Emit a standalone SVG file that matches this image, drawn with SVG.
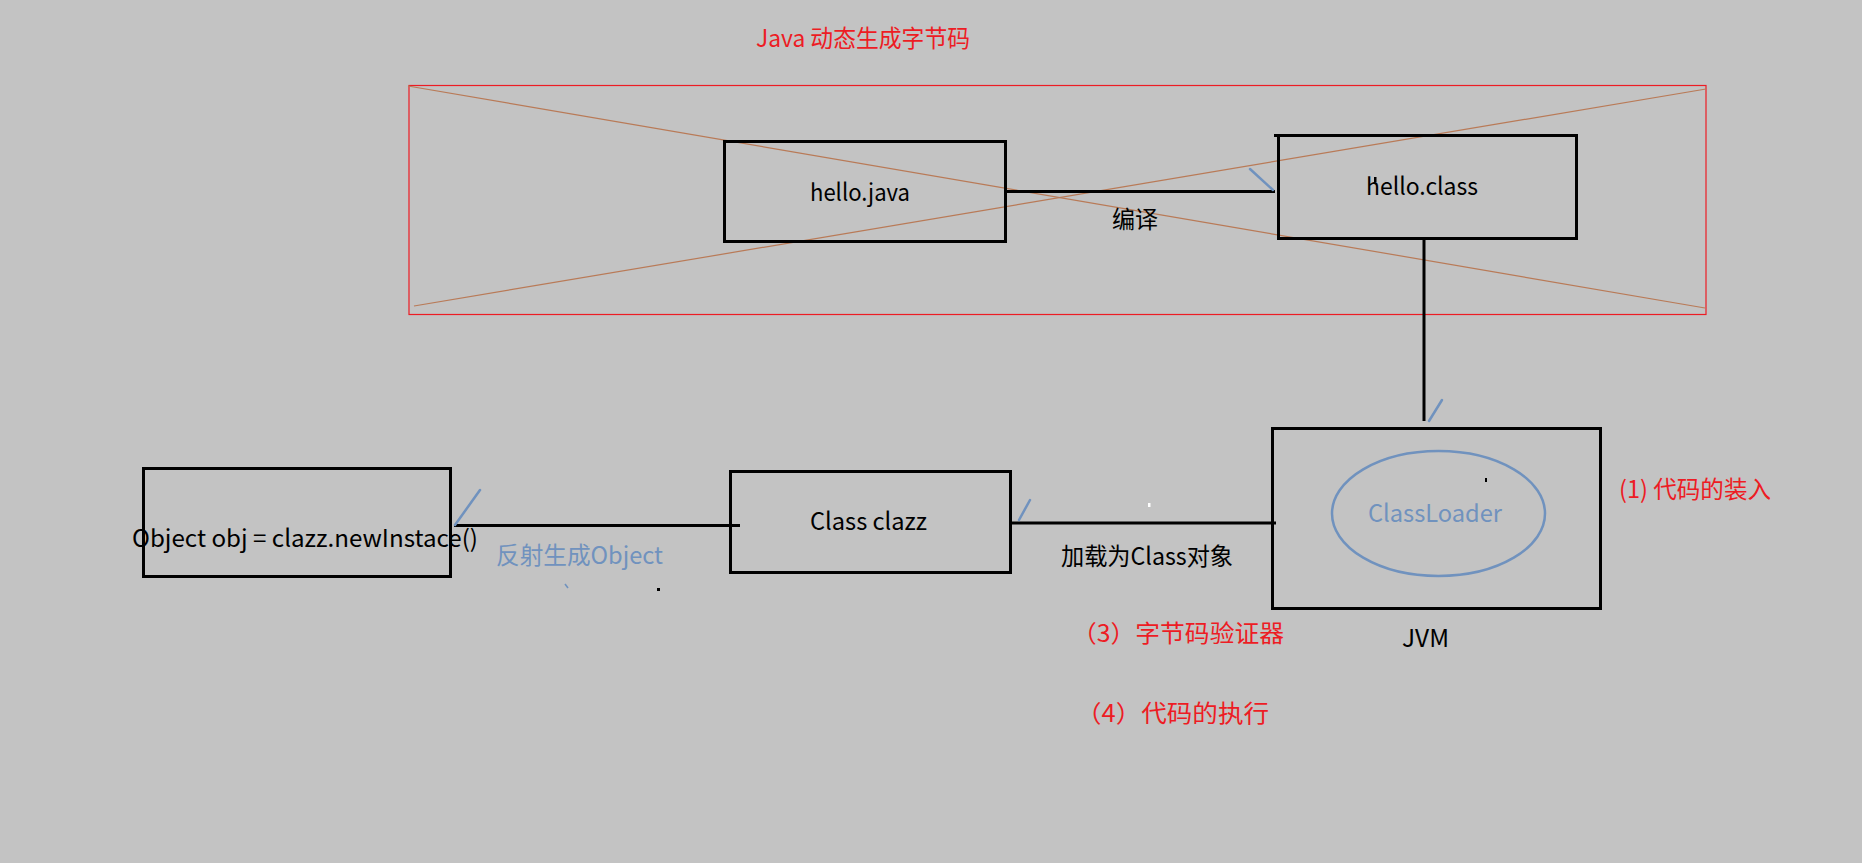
<svg xmlns="http://www.w3.org/2000/svg" width="1862" height="863" viewBox="0 0 1862 863">
<style>
text{font-family:"Noto Sans CJK SC","Liberation Sans",sans-serif;font-size:24px}
.k{fill:#000}.r{fill:#ED1C24}.b{fill:#7092BE}
.box{fill:none;stroke:#000;stroke-width:3}
.ln{stroke:#000;stroke-width:3;fill:none}
.tick{stroke:#7092BE;stroke-width:2.5;fill:none;stroke-linecap:round}
.cross{stroke:#B97A57;stroke-width:1.2;fill:none}
</style>
<rect width="1862" height="863" fill="#C3C3C3"/>
<g id="title"><text class="r" x="756" y="47" textLength="214" lengthAdjust="spacingAndGlyphs">Java 动态生成字节码</text></g>
<g id="crossed-frame">
<rect x="409" y="85.5" width="1297" height="229" fill="none" stroke="#ED1C24" stroke-width="1.2"/>
<line class="cross" x1="408" y1="86" x2="1705" y2="308"/>
<line class="cross" x1="414" y1="306" x2="1706" y2="89"/>
</g>
<g id="connectors">
<line class="ln" x1="1005" y1="191.5" x2="1275" y2="191.5"/>
<line class="tick" x1="1250" y1="169" x2="1273" y2="190"/>
<line class="ln" x1="1424" y1="239" x2="1424" y2="421"/>
<line class="tick" x1="1442" y1="400" x2="1429" y2="421"/>
<line class="ln" x1="1276" y1="523" x2="1012" y2="523"/>
<line class="tick" x1="1030" y1="500" x2="1019" y2="520"/>
<line class="ln" x1="740" y1="525.5" x2="454" y2="525.5"/>
<line class="tick" x1="480" y1="490" x2="455" y2="525"/>
<text class="k" x="1112" y="228" textLength="46" lengthAdjust="spacingAndGlyphs">编译</text>
<text class="k" x="1061" y="565" textLength="172" lengthAdjust="spacingAndGlyphs">加载为Class对象</text>
<text class="b" x="496" y="564" textLength="167" lengthAdjust="spacingAndGlyphs">反射生成Object</text>
</g>
<g id="hello-java">
<rect class="box" x="724.5" y="141.5" width="281" height="100"/>
<text class="k" x="810" y="200.5" textLength="100" lengthAdjust="spacingAndGlyphs">hello.java</text>
</g>
<g id="hello-class">
<rect class="box" x="1278.5" y="135.5" width="298" height="103"/>
<line class="ln" x1="1274" y1="135.5" x2="1279" y2="135.5"/>
<text class="k" x="1366" y="195" textLength="112" lengthAdjust="spacingAndGlyphs">hello.class</text>
<rect x="1374" y="177" width="2.5" height="5" fill="#000"/>
</g>
<g id="jvm">
<rect class="box" x="1272.5" y="428.5" width="328" height="180"/>
<ellipse cx="1438.5" cy="513.5" rx="106.5" ry="62.5" fill="none" stroke="#7092BE" stroke-width="2.5"/>
<text class="b" x="1368" y="522" textLength="134" lengthAdjust="spacingAndGlyphs">ClassLoader</text>
<rect x="1485" y="478" width="2" height="4" fill="#000"/>
<text class="k" x="1402" y="647" textLength="47" lengthAdjust="spacingAndGlyphs">JVM</text>
</g>
<g id="class-clazz">
<rect class="box" x="730.5" y="471.5" width="280" height="101"/>
<text class="k" x="810" y="530" textLength="117" lengthAdjust="spacingAndGlyphs">Class clazz</text>
</g>
<g id="object">
<rect class="box" x="143.5" y="468.5" width="307" height="108"/>
<text class="k" x="132" y="547" textLength="346" lengthAdjust="spacingAndGlyphs">Object obj = clazz.newInstace()</text>
</g>
<g id="notes">
<text class="r" x="1619" y="498" textLength="152" lengthAdjust="spacingAndGlyphs">(1) 代码的装入</text>
<text class="r" x="1072" y="642" textLength="212" lengthAdjust="spacingAndGlyphs">（3）字节码验证器</text>
<text class="r" x="1076" y="722" textLength="193" lengthAdjust="spacingAndGlyphs">（4）代码的执行</text>
</g>
<g id="marks">
<rect x="1148" y="503" width="2.5" height="4" fill="#fff"/>
<line x1="565" y1="584" x2="568" y2="588" stroke="#7092BE" stroke-width="1.5"/>
<rect x="657" y="588" width="3" height="3" fill="#000"/>
</g>
</svg>
